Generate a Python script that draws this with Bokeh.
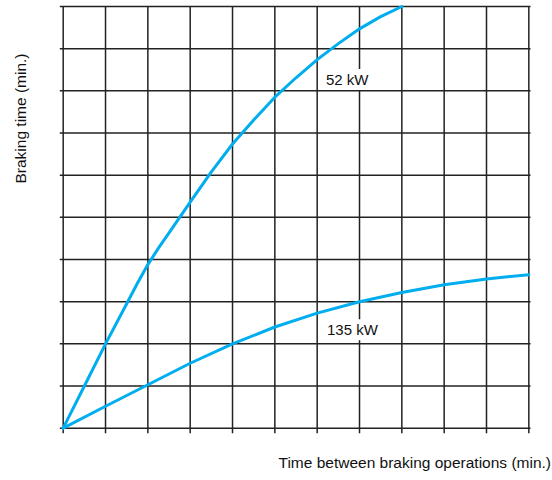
import math
from bokeh.plotting import figure
from bokeh.models import Range1d, Label, ColumnDataSource
from bokeh.embed import file_html
from bokeh.resources import INLINE

# ---- data (grid units) ----
x_ticks = list(range(0, 12))          # vertical grid lines (time between braking operations)
y_ticks = list(range(0, 11))          # horizontal grid lines (braking time)

x_52kw = [0, 0.5, 1, 1.5, 1.75, 2, 2.25, 2.5, 3, 3.5, 4, 4.5, 5, 5.5, 6, 6.5, 7, 7.5, 8]
y_52kw = [0, 1.0, 2.0, 2.95, 3.43, 3.88, 4.27, 4.63, 5.36, 6.08, 6.74, 7.31, 7.85, 8.31,
          8.74, 9.12, 9.47, 9.76, 10.0]

x_135kw = [0, 1, 2, 3, 4, 5, 6, 7, 8, 9, 10, 11]
y_135kw = [0, 0.52, 1.03, 1.54, 2.0, 2.4, 2.73, 3.0, 3.22, 3.4, 3.54, 3.64]

series_labels = ["52 kW", "135 kW"]
x_title = "Time between braking operations (min.)"
y_title = "Braking time (min.)"

FONT = "Liberation Sans"
CURVE = "#00AEEF"
GRID = "#222222"

p = figure(width=552, height=480, output_backend="svg", toolbar_location=None,
           x_axis_type=None, y_axis_type=None,
           x_range=Range1d(-1.4812, 11.5592), y_range=Range1d(-1.2402, 10.1423),
           min_border=0, min_border_left=0, min_border_right=0,
           min_border_top=0, min_border_bottom=0)
p.outline_line_color = None
p.background_fill_color = "white"
p.border_fill_color = "white"

xmin, xmax = x_ticks[0], x_ticks[-1]
ymin, ymax = y_ticks[0], y_ticks[-1]

# grid lines (with small outward tick extensions)
v_src = ColumnDataSource(dict(x0=x_ticks, y0=[ymin - 0.12] * len(x_ticks),
                              x1=x_ticks, y1=[ymax] * len(x_ticks)))
h_src = ColumnDataSource(dict(x0=[xmin - 0.08] * len(y_ticks), y0=y_ticks,
                              x1=[xmax + 0.04] * len(y_ticks), y1=y_ticks))
p.segment("x0", "y0", "x1", "y1", source=v_src, line_color=GRID, line_width=1.5, level="image")
p.segment("x0", "y0", "x1", "y1", source=h_src, line_color=GRID, line_width=1.5, level="image")

# curve labels with white boxes (under the curves)
lab52 = Label(x=6.161, y=8.269, text=series_labels[0], text_font=FONT, text_font_size="15px",
              text_color="#111111", text_align="left", text_baseline="alphabetic",
              background_fill_color="white", padding=2, level="underlay")
lab135 = Label(x=6.185, y=2.333, text=series_labels[1], text_font=FONT, text_font_size="15px",
               text_color="#111111", text_align="left", text_baseline="alphabetic",
               background_fill_color="white", padding=2, level="underlay")
p.add_layout(lab52)
p.add_layout(lab135)

# curves
p.line(x_52kw, y_52kw, line_color=CURVE, line_width=3, line_join="round", line_cap="round")
p.line(x_135kw, y_135kw, line_color=CURVE, line_width=3, line_join="round", line_cap="round")

# axis titles
p.add_layout(Label(x=5.086, y=-0.806, text=x_title, text_font=FONT, text_font_size="15.5px",
                   text_color="#111111", text_align="left", text_baseline="alphabetic"))
p.add_layout(Label(x=-1.009, y=7.344, text=y_title, text_font=FONT, text_font_size="15.5px",
                   text_color="#111111", text_align="center", text_baseline="alphabetic",
                   angle=math.pi / 2, angle_units="rad"))

open("out.html", "w").write(file_html(p, INLINE))
